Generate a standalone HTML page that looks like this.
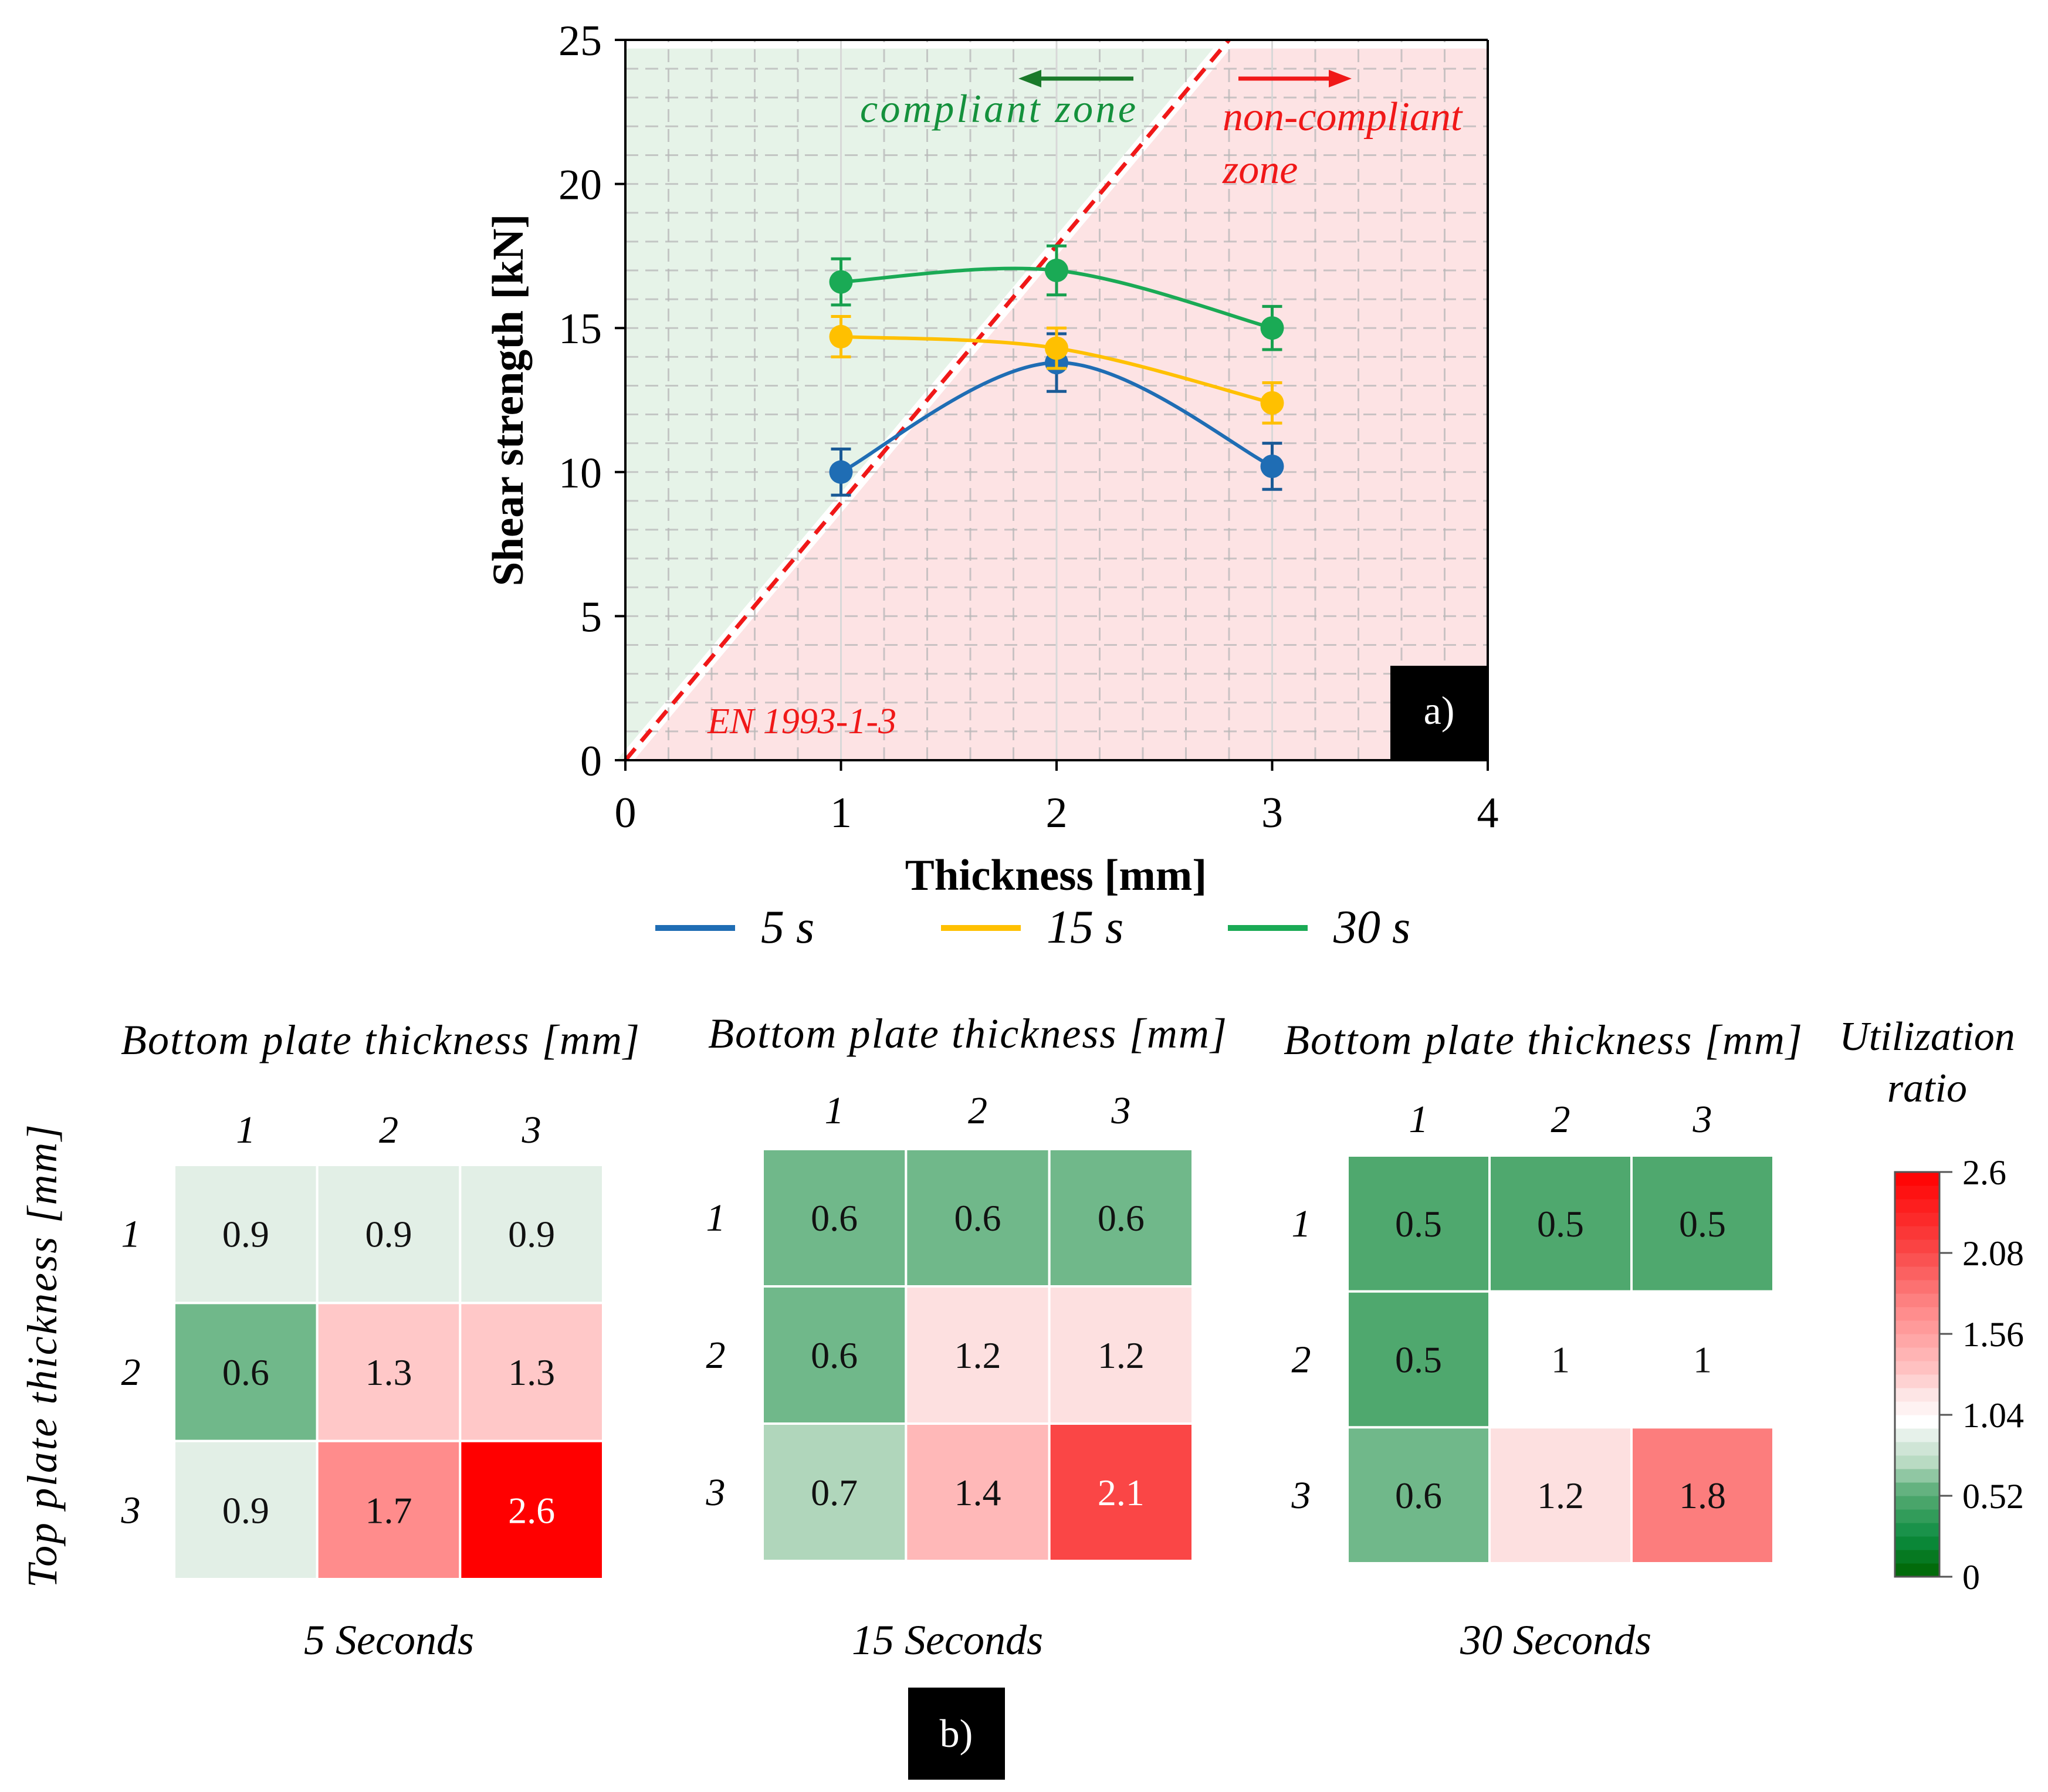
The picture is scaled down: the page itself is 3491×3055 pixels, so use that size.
<!DOCTYPE html>
<html><head><meta charset="utf-8"><style>
html,body{margin:0;padding:0;background:#fff;}
svg{display:block;font-family:"Liberation Serif",serif;}
</style></head><body>
<svg id="fig" width="3491" height="3055" viewBox="0 0 3491 3055" xmlns="http://www.w3.org/2000/svg">
<g id="topchart"></g>
<g id="heat"></g>
</svg>
<script>
// ---- line chart data ----
const thicknessCats = [1, 2, 3];
const series5s = [10.0, 13.8, 10.2];
const err5s = [0.8, 1.0, 0.8];
const series15s = [14.7, 14.3, 12.4];
const err15s = [0.7, 0.7, 0.7];
const series30s = [16.6, 17.0, 15.0];
const err30s = [0.8, 0.85, 0.75];
const seriesNames = ["5 s", "15 s", "30 s"];
const xTicks = [0, 1, 2, 3, 4];
const yTicks = [0, 5, 10, 15, 20, 25];
const codeSlope = [8.93];
// ---- heatmap data ----
const heatCats = ["1", "2", "3"];
const heat5 = [[0.9,0.9,0.9],[0.6,1.3,1.3],[0.9,1.7,2.6]];
const heat15 = [[0.6,0.6,0.6],[0.6,1.2,1.2],[0.7,1.4,2.1]];
const heat30 = [[0.5,0.5,0.5],[0.5,1,1],[0.6,1.2,1.8]];
const heatTitles = ["5 Seconds", "15 Seconds", "30 Seconds"];
const cbTicks = [0, 0.52, 1.04, 1.56, 2.08, 2.6];

const NS = "http://www.w3.org/2000/svg";
function mk(parent, tag, attrs, text){
  const e = document.createElementNS(NS, tag);
  for (const k in attrs) e.setAttribute(k, attrs[k]);
  if (text !== undefined) e.textContent = text;
  parent.appendChild(e);
  return e;
}
const topG = document.getElementById('topchart');
const X0=1066, X1=2536, Y0=1296, Y1=68;
const sx = v => X0 + (X1-X0)*v/4;
const sy = v => Y0 - (Y0-Y1)*v/25;
const lineX = y => y / codeSlope[0];

// zones
const yTop = 24.7, gap = 0.04;
let z = mk(topG,'polygon',{points:`${sx(0)},${sy(0)} ${sx(0)},${sy(yTop)} ${sx(lineX(yTop)-gap)},${sy(yTop)} ${sx(-gap)},${sy(0)}`,fill:'#e6f3e8'});


z = mk(topG,'polygon',{points:`${sx(gap)},${sy(0)} ${sx(lineX(yTop)+gap)},${sy(yTop)} ${sx(4)},${sy(yTop)} ${sx(4)},${sy(0)}`,fill:'#fde3e4'});



// grid
const grid = mk(topG,'g',{});


for (let v=1; v<25; v++) mk(grid,'line',{x1:sx(0),x2:sx(4),y1:sy(v),y2:sy(v),stroke:'#b8b8b8','stroke-width':3,'stroke-dasharray':'22 12','opacity':0.75});
for (let i=1; i<20; i++){ const v=i*0.2; if (i%5===0) continue;
  mk(grid,'line',{x1:sx(v),x2:sx(v),y1:sy(0),y2:sy(25),stroke:'#b8b8b8','stroke-width':3,'stroke-dasharray':'22 12','opacity':0.75}); }
[1,2,3].forEach(v=>mk(grid,'line',{x1:sx(v),x2:sx(v),y1:sy(0),y2:sy(25),stroke:'#d8d8d8','stroke-width':3}));

// code line
let cl = mk(topG,'line',{x1:sx(0),y1:sy(0),x2:sx(lineX(25)),y2:sy(25),stroke:'#f01818','stroke-width':7,'stroke-dasharray':'26 16'});



// axes
mk(topG,'line',{x1:X0,y1:Y1,x2:X0,y2:Y0,stroke:'#000','stroke-width':4});
mk(topG,'line',{x1:X0,y1:Y0,x2:X1,y2:Y0,stroke:'#000','stroke-width':4});
mk(topG,'line',{x1:X0,y1:Y1,x2:X1,y2:Y1,stroke:'#000','stroke-width':4});
mk(topG,'line',{x1:X1,y1:Y1,x2:X1,y2:Y0,stroke:'#000','stroke-width':4});
yTicks.forEach(v=>{
  mk(topG,'line',{x1:X0-18,x2:X0,y1:sy(v),y2:sy(v),stroke:'#000','stroke-width':4});
  const t=mk(topG,'text',{x:X0-40,y:sy(v)+26,'text-anchor':'end','font-size':74},String(v));
  
  
});
xTicks.forEach(v=>{
  mk(topG,'line',{x1:sx(v),x2:sx(v),y1:Y0,y2:Y0+18,stroke:'#000','stroke-width':4});
  const t=mk(topG,'text',{x:sx(v),y:Y0+114,'text-anchor':'middle','font-size':74},String(v));
  
  
});
let t = mk(topG,'text',{x:1800,y:1517,'text-anchor':'middle','font-size':75,'font-weight':'bold'},'Thickness  [mm]');


t = mk(topG,'text',{x:0,y:0,'text-anchor':'middle','font-size':75,'font-weight':'bold',transform:'translate(891,682) rotate(-90)'},'Shear strength [kN]');



// annotations
t = mk(topG,'text',{x:1466,y:208,'font-size':68,'font-style':'italic',fill:'#14913c',textLength:470},'compliant zone');


mk(topG,'line',{x1:1932,y1:134,x2:1770,y2:134,stroke:'#1a7a2a','stroke-width':7});
mk(topG,'polygon',{points:'1736,134 1775,119 1775,149',fill:'#1a7a2a'});
mk(topG,'line',{x1:2111,y1:134,x2:2270,y2:134,stroke:'#f01818','stroke-width':7});
mk(topG,'polygon',{points:'2304,134 2265,119 2265,149',fill:'#f01818'});
t = mk(topG,'text',{x:2084,y:222,'font-size':70,'font-style':'italic',fill:'#f01818'},'non-compliant');


mk(topG,'text',{x:2084,y:312,'font-size':70,'font-style':'italic',fill:'#f01818'},'zone');
t = mk(topG,'text',{x:1206,y:1250,'font-size':62,'font-style':'italic',fill:'#f01818'},'EN 1993-1-3');


let bx = mk(topG,'rect',{x:2370,y:1135,width:166,height:161,fill:'#000'});


mk(topG,'text',{x:2453,y:1234,'text-anchor':'middle','font-size':68,fill:'#fff'},'a)');

// series
const colors = ['#1f6db4','#ffc000','#1aaa55'];
const errColors = ['#1a5a96','#ffc000','#17a04e'];
const allSeries = [series5s, series15s, series30s];
const allErr = [err5s, err15s, err30s];
function smoothPath(pts){
  let d = `M${pts[0][0]},${pts[0][1]}`;
  for (let i=0;i<pts.length-1;i++){
    const p0=pts[i-1]||pts[i], p1=pts[i], p2=pts[i+1], p3=pts[i+2]||pts[i+1];
    const k=1/6;
    const c1=[p1[0]+(p2[0]-p0[0])*k, p1[1]+(p2[1]-p0[1])*k];
    const c2=[p2[0]-(p3[0]-p1[0])*k, p2[1]-(p3[1]-p1[1])*k];
    d += ` C${c1[0]},${c1[1]} ${c2[0]},${c2[1]} ${p2[0]},${p2[1]}`;
  }
  return d;
}
allSeries.forEach((s,si)=>{
  const g = mk(topG,'g',{});
  
  
  const pts = s.map((v,i)=>[sx(thicknessCats[i]), sy(v)]);
  mk(g,'path',{d:smoothPath(pts),fill:'none',stroke:colors[si],'stroke-width':6});
  s.forEach((v,i)=>{
    const e=allErr[si][i], x=sx(thicknessCats[i]);
    mk(g,'line',{x1:x,x2:x,y1:sy(v-e),y2:sy(v+e),stroke:errColors[si],'stroke-width':5});
    mk(g,'line',{x1:x-17,x2:x+17,y1:sy(v-e),y2:sy(v-e),stroke:errColors[si],'stroke-width':5});
    mk(g,'line',{x1:x-17,x2:x+17,y1:sy(v+e),y2:sy(v+e),stroke:errColors[si],'stroke-width':5});
    const c=mk(g,'circle',{cx:x,cy:sy(v),r:20,fill:colors[si]});
    
    
  });
});
// legend
const legX = [1117,1604,2093];
seriesNames.forEach((n,i)=>{
  const g=mk(topG,'g',{});
  
  
  mk(g,'line',{x1:legX[i],x2:legX[i]+136,y1:1582,y2:1582,stroke:colors[i],'stroke-width':10});
  mk(g,'text',{x:legX[i]+180,y:1607,'font-size':80,'font-style':'italic'},n);
});

// ---- heatmaps ----
const heatG = document.getElementById('heat');
const cstops = [[0,[0,100,0]],[0.25,[12,140,64]],[0.5,[79,168,110]],[0.6,[112,184,138]],[0.7,[176,214,187]],[0.9,[226,239,230]],[0.97,[255,255,255]],[1.0,[255,255,255]],[1.2,[253,224,224]],[1.3,[255,200,200]],[1.4,[255,184,184]],[1.7,[255,140,140]],[1.8,[252,125,125]],[2.1,[250,70,70]],[2.6,[255,0,0]]];
function colorFor(v){
  for (let i=0;i<cstops.length-1;i++){
    const a=cstops[i],b=cstops[i+1];
    if (v<=b[0]){ const f=(v-a[0])/(b[0]-a[0]); const c=a[1].map((x,j)=>Math.round(x+(b[1][j]-x)*f)); return `rgb(${c.join(',')})`; }
  }
  return 'rgb(255,0,0)';
}
const maps = [
  {data:heat5, x:297, y:1986, w:731, h:706, title:'Bottom plate thickness [mm]', ty:1797, cly:1948, rlx:223, tx:648, lx:663},
  {data:heat15, x:1300, y:1959, w:733, h:702, title:'Bottom plate thickness [mm]', ty:1786, cly:1915, rlx:1220, tx:1649, lx:1615},
  {data:heat30, x:2297, y:1970, w:726, h:695, title:'Bottom plate thickness [mm]', ty:1797, cly:1930, rlx:2218, tx:2630, lx:2652}
];
maps.forEach((m,mi)=>{
  const g=mk(heatG,'g',{});
  
  
  const cw=m.w/3, ch=m.h/3;
  m.data.forEach((row,r)=>row.forEach((v,c)=>{
    const rc=mk(g,'rect',{x:m.x+c*cw,y:m.y+r*ch,width:cw,height:ch,fill:colorFor(v),stroke:'#fff','stroke-width':4});
    
    
    mk(g,'text',{x:m.x+c*cw+cw/2,y:m.y+r*ch+ch/2+22,'text-anchor':'middle','font-size':64,fill:v>=2?'#fff':'#111'},String(v));
  }));
  heatCats.forEach((cat,i)=>{
    mk(g,'text',{x:m.x+cw*i+cw/2,y:m.cly,'text-anchor':'middle','font-size':66,'font-style':'italic'},cat);
    mk(g,'text',{x:m.rlx,y:m.y+ch*i+ch/2+22,'text-anchor':'middle','font-size':66,'font-style':'italic'},cat);
  });
  const tt=mk(g,'text',{x:m.tx,y:m.ty,'text-anchor':'middle','font-size':72,'font-style':'italic',textLength:884},m.title);
  
  
  const bt=mk(g,'text',{x:m.lx,y:2820,'text-anchor':'middle','font-size':72,'font-style':'italic'},heatTitles[mi]);
  
  
});
t = mk(heatG,'text',{x:0,y:0,'text-anchor':'middle','font-size':72,'font-style':'italic',transform:'translate(96,2312) rotate(-90)',textLength:790},'Top  plate thickness [mm]');



// colorbar
const CB = {x:3230, y0:2688, y1:1998, w:76};
const cby = v => CB.y0 - (CB.y0-CB.y1)*v/2.6;
const cbg = mk(heatG,'g',{});


for (let i=0;i<30;i++){
  const v0=i*2.6/30, v1=(i+1)*2.6/30;
  mk(cbg,'rect',{x:CB.x,y:cby(v1),width:CB.w,height:cby(v0)-cby(v1)+0.5,fill:colorFor((v0+v1)/2)});
}
mk(cbg,'rect',{x:CB.x,y:CB.y1,width:CB.w,height:CB.y0-CB.y1,fill:'none',stroke:'#555','stroke-width':3});
cbTicks.forEach(v=>{
  mk(cbg,'line',{x1:CB.x+CB.w,x2:CB.x+CB.w+22,y1:cby(v),y2:cby(v),stroke:'#555','stroke-width':3});
  const tl=mk(cbg,'text',{x:3345,y:cby(v)+21,'font-size':60},String(v));
  
  
});
t = mk(heatG,'text',{x:3285,y:1790,'text-anchor':'middle','font-size':70,'font-style':'italic'},'Utilization');


mk(heatG,'text',{x:3285,y:1878,'text-anchor':'middle','font-size':70,'font-style':'italic'},'ratio');
bx = mk(heatG,'rect',{x:1548,y:2877,width:165,height:157,fill:'#000'});


mk(heatG,'text',{x:1630,y:2978,'text-anchor':'middle','font-size':68,fill:'#fff'},'b)');
</script>
</body></html>
